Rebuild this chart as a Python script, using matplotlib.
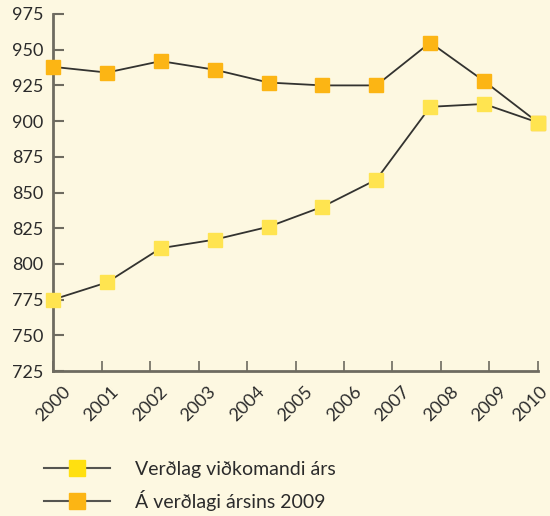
import matplotlib
matplotlib.use("Agg")
import matplotlib.pyplot as plt
import matplotlib.transforms as mtrans
from matplotlib.lines import Line2D

years = ["2000", "2001", "2002", "2003", "2004", "2005", "2006", "2007", "2008", "2009", "2010"]
current_prices = [775, 787, 811, 817, 826, 840, 859, 910, 912, 899]
prices_2009 = [938, 934, 942, 936, 927, 925, 925, 955, 928, 899]
series_labels = ["Verðlag viðkomandi árs", "Á verðlagi ársins 2009"]

bg = "#FDF8E1"
yellow = "#FFE450"
orange = "#FCB514"
text_c = "#2b2b2b"
spine_c = "#6e6b60"

plt.rcParams['font.family'] = ['Lato', 'DejaVu Sans']

fig = plt.figure(figsize=(5.5, 5.16), dpi=100, facecolor=bg)
ax = fig.add_axes([53/550, 1-371/516, (538-53)/550, (371-14)/516], facecolor=bg)

xs = list(range(len(current_prices)))
ax.plot(xs, prices_2009, color="#333330", lw=1.3, marker="s", ms=10,
        mfc=orange, mec=orange, zorder=3, clip_on=False)
ax.plot(xs, current_prices, color="#333330", lw=1.3, marker="s", ms=10,
        mfc=yellow, mec=yellow, zorder=4, clip_on=False)

ax.set_xlim(0, len(current_prices) - 1)
ax.set_ylim(725, 975)
ax.set_yticks(range(725, 976, 25))
step = (len(current_prices) - 1) / (len(years) - 1)
ax.set_xticks([i * step for i in range(len(years))])
ax.set_xticklabels(years, rotation=45, ha="center", va="top")

for s in ["top", "right"]:
    ax.spines[s].set_visible(False)
for s in ["left", "bottom"]:
    ax.spines[s].set_color(spine_c)
    ax.spines[s].set_linewidth(2)

ax.tick_params(axis="y", direction="in", length=8, width=1.5, color=spine_c,
               labelsize=13, labelcolor=text_c, pad=7)
ax.tick_params(axis="x", direction="in", length=7, width=1.2, color=spine_c,
               labelsize=13, labelcolor=text_c, pad=9)

last = ax.get_xticklabels()[-1]
last.set_transform(last.get_transform() + mtrans.ScaledTranslation(-8/100, 0, fig.dpi_scale_trans))

handles = [
    Line2D([0], [0], color="#555550", lw=1.5, marker="s", ms=11, mfc="#FFE010", mec="#FFE010"),
    Line2D([0], [0], color="#555550", lw=1.5, marker="s", ms=11, mfc=orange, mec=orange),
]
leg = fig.legend(handles, series_labels, loc="upper left", bbox_to_anchor=(26/550, 1-443/516),
                 frameon=False, fontsize=14, handlelength=3.4, handletextpad=1.3,
                 labelspacing=0.65, labelcolor=text_c)

fig.savefig("out.png", dpi=100, facecolor=bg)
